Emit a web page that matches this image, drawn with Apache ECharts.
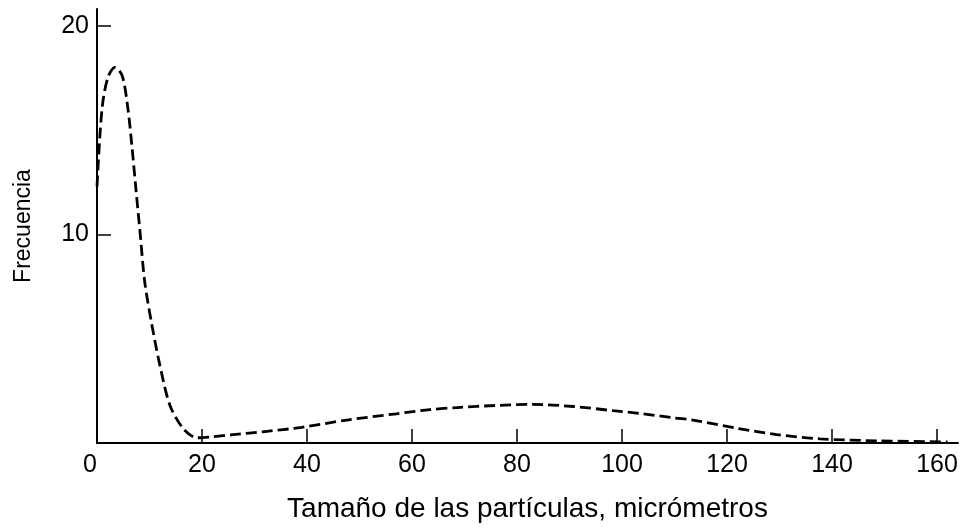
<!DOCTYPE html>
<html>
<head>
<meta charset="utf-8">
<script src="https://cdn.jsdelivr.net/npm/echarts@6/dist/echarts.min.js"></script>
<style>html,body{margin:0;padding:0;background:#fff;}#c{width:964px;height:528px;}</style>
</head>
<body>
<div id="c"></div>
<script>
const xTickLabels = [0, 20, 40, 60, 80, 100, 120, 140, 160];
const xTickMarks = [20, 40, 60, 80, 100, 120, 140, 160];
const yTickLabels = [10, 20];
const sizes = [0, 0.6, 1.2, 2.2, 3.4, 4.8, 5.9, 6.7, 7.4, 8.2, 9.1, 10.5, 12, 13.9, 16.4, 19, 22, 26, 32, 39, 47.6, 57, 63.4, 68.6, 76, 83, 90.7, 98.3, 104, 110, 113.5, 122, 129.5, 137.7, 149, 162];
const freq = [12.3, 14.9, 16.5, 17.6, 18.0, 17.6, 16.0, 14.1, 12.2, 10.1, 7.7, 5.6, 3.7, 1.8, 0.7, 0.25, 0.3, 0.4, 0.55, 0.75, 1.1, 1.4, 1.6, 1.7, 1.8, 1.85, 1.75, 1.55, 1.4, 1.2, 1.1, 0.7, 0.4, 0.2, 0.1, 0.05];

const chart = echarts.init(document.getElementById('c'), null, {renderer: 'canvas'});
const font = 'Liberation Sans';
chart.setOption({
  animation: false,
  backgroundColor: '#ffffff',
  grid: {left: 97, right: 6, top: 9, bottom: 83, containLabel: false},
  xAxis: {
    type: 'value', min: 0, max: 164,
    name: 'Tamaño de las partículas, micrómetros',
    nameLocation: 'middle', nameGap: 52,
    nameTextStyle: {fontFamily: font, fontSize: 28, color: '#000'},
    axisLine: {show: true, lineStyle: {color: '#000', width: 2}},
    axisTick: {show: true, inside: true, length: 14, customValues: xTickMarks, lineStyle: {color: '#000', width: 1.5}},
    axisLabel: {customValues: xTickLabels, fontFamily: font, fontSize: 25, color: '#000', margin: 10, alignMinLabel: 'right'},
    splitLine: {show: false}
  },
  yAxis: {
    type: 'value', min: 0, max: 20.8,
    name: 'Frecuencia',
    nameLocation: 'middle', nameGap: 62, nameRotate: 90,
    nameTextStyle: {fontFamily: font, fontSize: 23, color: '#000'},
    axisLine: {show: true, lineStyle: {color: '#000', width: 2}},
    axisTick: {show: true, inside: true, length: 14, customValues: yTickLabels, lineStyle: {color: '#000', width: 1.5}},
    axisLabel: {customValues: yTickLabels, fontFamily: font, fontSize: 25, color: '#000', margin: 8},
    splitLine: {show: false}
  },
  series: [{
    type: 'line',
    data: sizes.map((s, i) => [s, freq[i]]),
    smooth: 0.3,
    showSymbol: false,
    lineStyle: {color: '#000', width: 2.8, type: [11, 5]}
  }]
});
</script>
</body>
</html>
